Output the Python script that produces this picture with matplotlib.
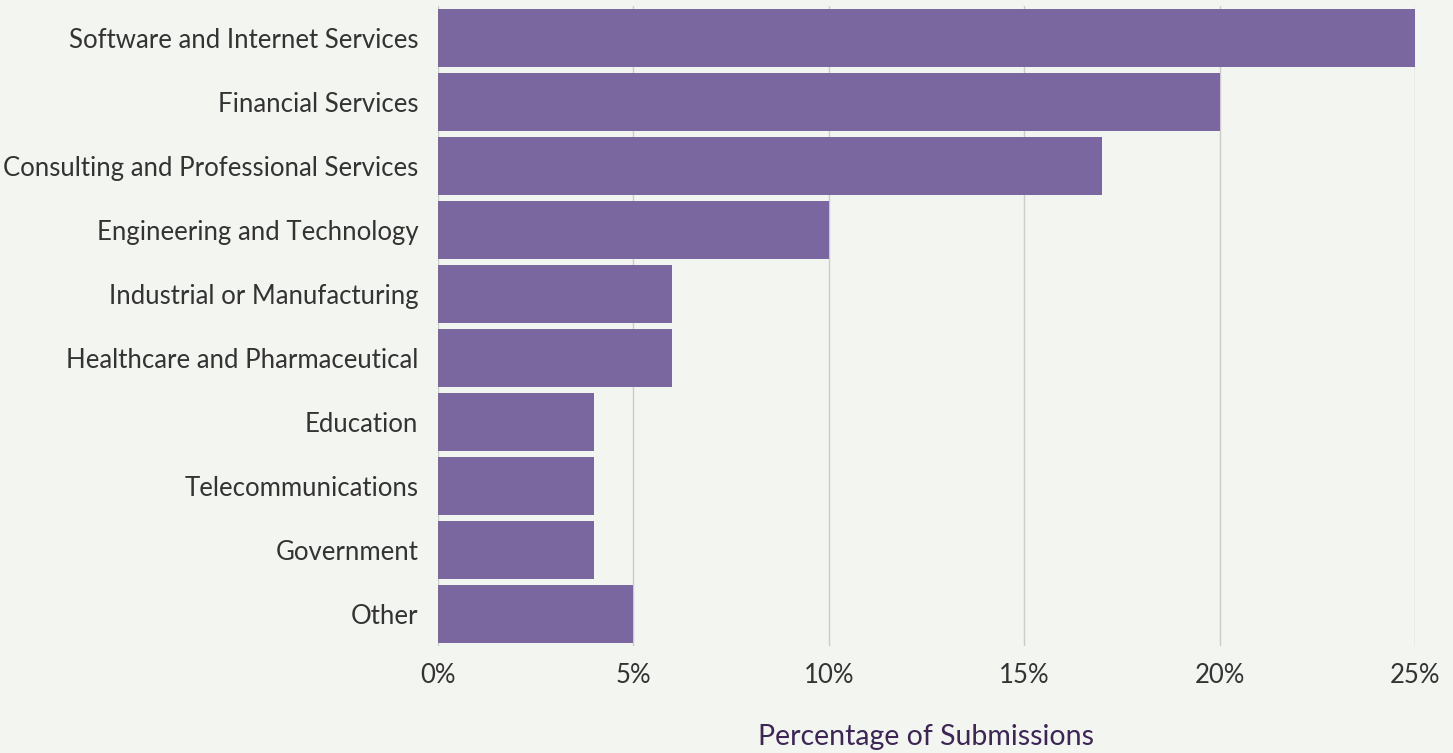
import matplotlib
matplotlib.use('Agg')
import matplotlib.pyplot as plt
from matplotlib.ticker import FuncFormatter

industries = ['Software and Internet Services', 'Financial Services',
              'Consulting and Professional Services', 'Engineering and Technology',
              'Industrial or Manufacturing', 'Healthcare and Pharmaceutical',
              'Education', 'Telecommunications', 'Government', 'Other']
percentages = [25, 20, 17, 10, 6, 6, 4, 4, 4, 5]
x_ticks = [0, 5, 10, 15, 20, 25]

bg = '#F3F5F0'
bar_color = '#7A67A0'

plt.rcParams['font.family'] = ['Lato', 'DejaVu Sans']

fig = plt.figure(figsize=(14.53, 7.53), dpi=100, facecolor=bg)
ax = fig.add_axes([0.3014, 0.1421, 0.6724, 0.85], facecolor=bg)

y_pos = list(range(len(industries)))
ax.barh(y_pos, percentages, height=0.9, color=bar_color, zorder=2)

ax.set_ylim(len(industries) - 0.5, -0.5)
ax.set_xlim(0, 25)
ax.set_yticks(y_pos)
ax.set_yticklabels(industries)
ax.set_xticks(x_ticks)
ax.xaxis.set_major_formatter(FuncFormatter(lambda v, p: '%d%%' % v))

ax.grid(axis='x', color='#CCCCCC', linewidth=1, zorder=0)
ax.grid(axis='y', visible=False)
for s in ax.spines.values():
    s.set_visible(False)
ax.tick_params(axis='both', length=0, labelsize=18.5, labelcolor='#333333')
ax.tick_params(axis='y', pad=14)
ax.tick_params(axis='x', pad=12)

ax.set_xlabel('Percentage of Submissions', fontsize=20.5, color='#3D2656', labelpad=26)

fig.savefig('out.png', dpi=100, facecolor=bg)
